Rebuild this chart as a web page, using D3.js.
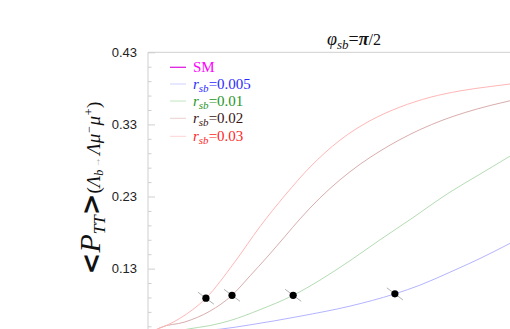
<!DOCTYPE html>
<html>
<head>
<meta charset="utf-8">
<script src="https://cdn.jsdelivr.net/npm/d3@7"></script>
<style>
  body { margin: 0; background: #fff; }
  svg { display: block; }
</style>
</head>
<body>
<div id="chart"></div>
<script>
"use strict";

// x is an arbitrary normalised variable (no x axis visible in the crop)
const redPts   = [[0.000,0.042],[0.025,0.046],[0.088,0.061],[0.160,0.089],[0.238,0.138],[0.309,0.188],[0.379,0.232],[0.448,0.271],[0.530,0.308],[0.613,0.335],[0.696,0.354],[0.779,0.3675],[0.862,0.3765],[0.945,0.3825],[1.000,0.386]];
const brownPts = [[0.019,0.044],[0.033,0.048],[0.102,0.056],[0.171,0.071],[0.232,0.093],[0.282,0.120],[0.329,0.146],[0.379,0.175],[0.420,0.199],[0.475,0.228],[0.530,0.253],[0.586,0.2748],[0.641,0.293],[0.696,0.3089],[0.751,0.3227],[0.815,0.3361],[0.876,0.3465],[0.945,0.3562],[1.000,0.3628]];
const greenPts = [[0.080,0.043],[0.108,0.046],[0.171,0.051],[0.227,0.058],[0.309,0.073],[0.401,0.093],[0.475,0.114],[0.558,0.141],[0.641,0.170],[0.724,0.198],[0.834,0.236],[0.917,0.261],[1.000,0.286]];
const bluePts  = [[0.144,0.044],[0.199,0.046],[0.282,0.052],[0.420,0.064],[0.558,0.078],[0.682,0.095],[0.751,0.107],[0.834,0.125],[0.917,0.144],[1.000,0.165]];

const dotPts = [[0.160,0.089],[0.232,0.093],[0.401,0.093],[0.682,0.095]];

const legendNames = ["SM", "0.005", "0.01", "0.02", "0.03"];
const majorTicks = [0.13, 0.23, 0.33, 0.43];
const minorTicks = [0.05,0.07,0.09,0.11,0.15,0.17,0.19,0.21,0.25,0.27,0.29,0.31,0.35,0.37,0.39,0.41];

const W = 510, H = 329;
const plotLeft = 148, plotTop = 52.3;

const svg = d3.select("#chart").append("svg")
  .attr("width", W)
  .attr("height", H);

const x = d3.scaleLinear().domain([0, 1]).range([plotLeft, W]);
const y = d3.scaleLinear().domain([0.05, 0.43]).range([326.3, plotTop]);

// frame: top line and left axis
svg.append("line")
  .attr("x1", plotLeft).attr("x2", W)
  .attr("y1", plotTop).attr("y2", plotTop)
  .attr("stroke", "#cfcfcf");

const gMinor = svg.append("g")
  .attr("transform", "translate(" + plotLeft + ",0)")
  .call(d3.axisLeft(y).tickValues(minorTicks).tickSize(-3.5).tickFormat(""));
gMinor.select(".domain").remove();
gMinor.selectAll("line").attr("stroke", "#cfcfcf");

const gMajor = svg.append("g")
  .attr("transform", "translate(" + plotLeft + ",0)")
  .call(d3.axisLeft(y).tickValues(majorTicks).tickSize(-7).tickPadding(11)
    .tickFormat(d3.format(".2f")));
gMajor.select(".domain").remove();
gMajor.selectAll("line").attr("stroke", "#cfcfcf");
gMajor.selectAll("text")
  .attr("font-family", "Liberation Sans, Arial, sans-serif")
  .attr("font-size", 13)
  .attr("fill", "#222");

svg.append("line")
  .attr("x1", plotLeft).attr("x2", plotLeft)
  .attr("y1", plotTop).attr("y2", H)
  .attr("stroke", "#cfcfcf");

// curves
const line = d3.line()
  .x(d => x(d[0]))
  .y(d => y(d[1]))
  .curve(d3.curveMonotoneX);

const curves = [
  { pts: bluePts,  color: "#b4b4ff" },
  { pts: greenPts, color: "#b4dcb4" },
  { pts: brownPts, color: "#d9adad" },
  { pts: redPts,   color: "#ffb6b6" }
];

curves.forEach(c => {
  svg.append("path")
    .attr("d", line(c.pts))
    .attr("fill", "none")
    .attr("stroke", c.color)
    .attr("stroke-width", 1);
});

// points with gray cross bars
dotPts.forEach(d => {
  svg.append("line")
    .attr("x1", x(d[0]) - 8).attr("y1", y(d[1]) - 6)
    .attr("x2", x(d[0]) + 8).attr("y2", y(d[1]) + 6)
    .attr("stroke", "#b0b0b0")
    .attr("stroke-width", 1);
  svg.append("circle")
    .attr("cx", x(d[0])).attr("cy", y(d[1]))
    .attr("r", 3.6)
    .attr("fill", "#000");
});

// legend
const legLine = ["#e020e0", "#d0d0ff", "#c0e4c0", "#ecd0d0", "#ffd4d4"];
const legText = ["#ff00ff", "#2b2bff", "#1f961f", "#3a1414", "#ff1f1f"];
const legY = [67.3, 84, 101, 118.3, 136.3];

legendNames.forEach((name, i) => {
  svg.append("line")
    .attr("x1", 170).attr("x2", 186)
    .attr("y1", legY[i]).attr("y2", legY[i])
    .attr("stroke", legLine[i])
    .attr("stroke-width", i === 0 ? 1.3 : 1);
  const t = svg.append("text")
    .attr("x", 193).attr("y", legY[i] + 4.5)
    .attr("font-family", "Liberation Serif, Times New Roman, serif")
    .attr("font-size", 15)
    .attr("fill", legText[i]);
  if (i === 0) {
    t.text(name);
  } else {
    t.append("tspan").attr("font-style", "italic").text("r");
    t.append("tspan").attr("font-style", "italic").attr("font-size", 11).attr("dy", 3).text("sb");
    t.append("tspan").attr("dy", -3).text("=" + name);
  }
});

// title
const title = svg.append("text")
  .attr("x", 327).attr("y", 45)
  .attr("font-family", "Liberation Serif, Times New Roman, serif")
  .attr("font-size", 18)
  .attr("fill", "#111");
title.append("tspan").attr("font-style", "italic").text("\u03c6");
title.append("tspan").attr("font-style", "italic").attr("font-size", 13).attr("dy", 4).text("sb");
title.append("tspan").attr("dy", -4).text("=");
title.append("tspan").attr("font-style", "italic").attr("font-weight", "bold").text("\u03c0");
title.append("tspan").attr("font-size", 16).text("/2");

// y axis label
const yl = svg.append("text")
  .attr("transform", "translate(100,188) rotate(-90)")
  .attr("text-anchor", "middle")
  .attr("font-family", "Liberation Serif, Times New Roman, serif")
  .attr("fill", "#111");
yl.append("tspan").attr("font-family", "DejaVu Sans, sans-serif").attr("font-weight", "bold").attr("font-size", 26).text("<");
yl.append("tspan").attr("font-style", "italic").attr("font-size", 30).text("P");
yl.append("tspan").attr("font-style", "italic").attr("font-size", 17).attr("dy", 5).text("TT");
yl.append("tspan").attr("dy", -5).attr("font-family", "DejaVu Sans, sans-serif").attr("font-weight", "bold").attr("font-size", 26).text(">");
yl.append("tspan").attr("font-size", 19).text("(");
yl.append("tspan").attr("font-style", "italic").attr("font-size", 19).text("\u039b");
yl.append("tspan").attr("font-style", "italic").attr("font-size", 12).attr("dy", 3).text("b");
yl.append("tspan").attr("dy", -3).attr("font-size", 10).attr("fill", "#aaa").text(" \u2192 ");
yl.append("tspan").attr("font-style", "italic").attr("font-size", 19).text("\u039b\u03bc");
yl.append("tspan").attr("font-style", "italic").attr("font-size", 12).attr("dy", -7).text("\u2212");
yl.append("tspan").attr("dy", 7).attr("font-style", "italic").attr("font-size", 19).text("\u03bc");
yl.append("tspan").attr("font-style", "italic").attr("font-size", 12).attr("dy", -7).text("+");
yl.append("tspan").attr("dy", 7).attr("font-size", 19).text(")");
</script>
</body>
</html>
